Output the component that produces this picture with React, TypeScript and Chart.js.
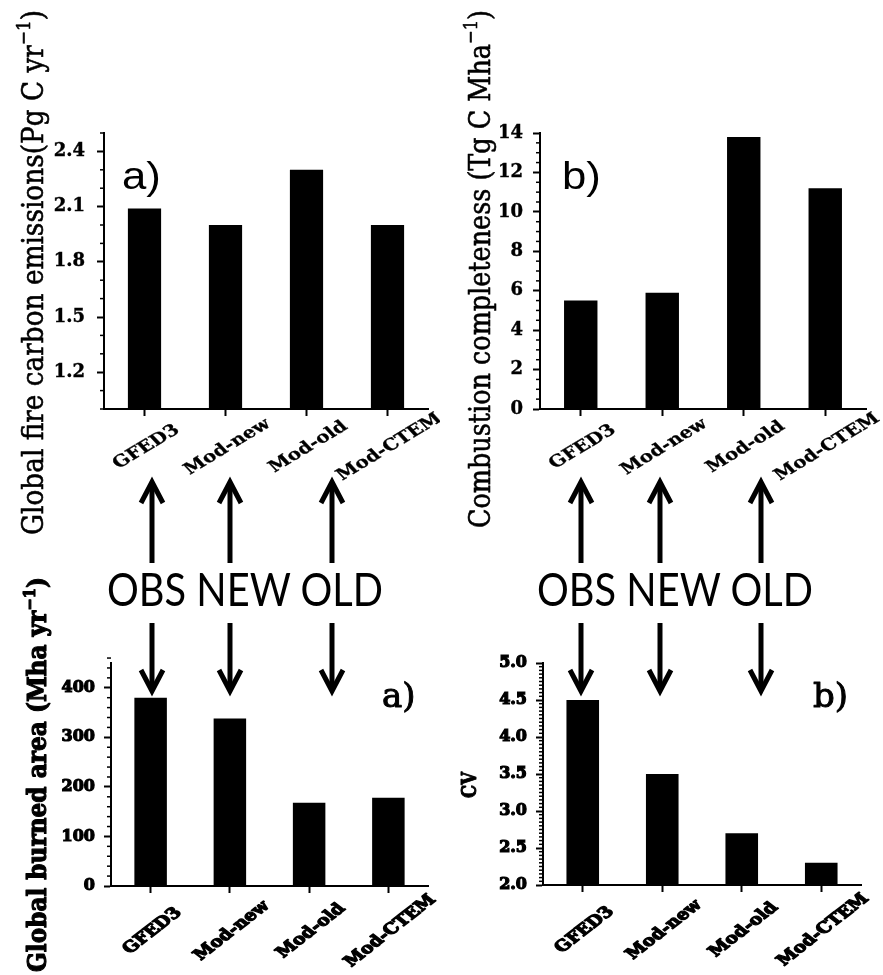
import React, { useEffect, useRef } from 'react';
import { Chart, registerables } from 'chart.js';

Chart.register(...registerables);

// ---------- data ----------
const CATEGORIES = ['GFED3', 'Mod-new', 'Mod-old', 'Mod-CTEM'];
const EMISSIONS = [2.09, 2.0, 2.3, 2.0];
const COMBUSTION = [5.5, 5.9, 13.8, 11.2];
const BURNED_AREA = [380, 338, 168, 178];
const CV_VALUES = [4.5, 3.5, 2.7, 2.3];

const EMISSIONS_TICKS = [1.2, 1.5, 1.8, 2.1, 2.4];
const COMBUSTION_TICKS = [0, 2, 4, 6, 8, 10, 12, 14];
const BURNED_TICKS = [0, 100, 200, 300, 400];
const CV_TICKS = [2.0, 2.5, 3.0, 3.5, 4.0, 4.5, 5.0];

const GROUP_LABEL = 'OBS NEW OLD';

// ---------- layout ----------
const SERIF = '"DejaVu Serif"';

type Panel = any;

const PANELS: Panel[] = [
  {
    key: 'tl', left: 0, top: 0, width: 440, height: 560,
    area: { l: 104, r: 428, t: 133, b: 409 },
    data: EMISSIONS, yMin: 1.0, yMax: 2.5, yTicks: EMISSIONS_TICKS, minorStep: 0.1, decimals: 1,
    tickFont: { family: SERIF, size: 18, weight: 'bold' }, tickStroke: 0.4, tickPad: 12,
    title: { main: 'Global fire carbon emissions(Pg C yr', sup: '\u22121', close: ')', size: 25, weight: 'normal', stroke: 0.5, bx: 43, y0: 10, y1: 535, stretch: 1.2 },
    label: { text: 'a)', font: '38px "Liberation Sans"', x: 122, y: 189, stretch: 1.15, stroke: 0 },
    xLabel: { font: `bold 16px ${SERIF}`, stroke: 0.3, angle: 37, stretch: 1.25, dy: 38, dx: 2 },
  },
  {
    key: 'tr', left: 440, top: 0, width: 443, height: 560,
    area: { l: 540, r: 866, t: 133, b: 409 },
    data: COMBUSTION, yMin: 0, yMax: 14, yTicks: COMBUSTION_TICKS, minorStep: 0.5, decimals: 0,
    tickFont: { family: SERIF, size: 18, weight: 'bold' }, tickStroke: 0.4, tickPad: 10,
    title: { main: 'Combustion completeness (Tg C Mha', sup: '\u22121', close: ')', size: 25, weight: 'normal', stroke: 0.5, bx: 490, y0: 10, y1: 528, stretch: 1.2 },
    label: { text: 'b)', font: '38px "Liberation Sans"', x: 562, y: 189, stretch: 1.15, stroke: 0 },
    xLabel: { font: `bold 16px ${SERIF}`, stroke: 0.3, angle: 37, stretch: 1.25, dy: 38, dx: 2 },
  },
  {
    key: 'bl', left: 0, top: 540, width: 440, height: 435,
    area: { l: 111, r: 428, t: 663, b: 886 },
    data: BURNED_AREA, yMin: 0, yMax: 450, yTicks: BURNED_TICKS, minorStep: 20, decimals: 0,
    tickFont: { family: SERIF, size: 16, weight: 'bold' }, tickStroke: 1.2, tickPad: 9,
    title: { main: 'Global burned area (Mha yr', sup: '\u22121', close: ')', size: 22, weight: 'bold', stroke: 1.0, bx: 46, y0: 577, y1: 972, stretch: 1.15 },
    label: { text: 'a)', font: `34px ${SERIF}`, x: 382, y: 707, stretch: 1.0, stroke: 1.0 },
    xLabel: { font: `bold 15px ${SERIF}`, stroke: 1.2, angle: 45, stretch: 1.28, dy: 45, dx: 2 },
  },
  {
    key: 'br', left: 440, top: 540, width: 443, height: 435,
    area: { l: 543, r: 861, t: 663, b: 885 },
    data: CV_VALUES, yMin: 2.0, yMax: 5.0, yTicks: CV_TICKS, minorStep: 0.05, decimals: 1,
    tickFont: { family: SERIF, size: 16, weight: 'bold' }, tickStroke: 1.2, tickPad: 9,
    title: { main: 'CV', sup: '', close: '', size: 20, weight: 'bold', stroke: 1.0, bx: 476, y0: 772, y1: 798, stretch: 1.0 },
    label: { text: 'b)', font: `34px ${SERIF}`, x: 813, y: 707, stretch: 1.0, stroke: 1.0 },
    xLabel: { font: `bold 15px ${SERIF}`, stroke: 1.2, angle: 45, stretch: 1.28, dy: 45, dx: 2 },
  },
];

const ARROW_X = [152, 230, 332, 581, 660, 761];
const UP_TIP = 482;
const UP_TAIL = 563;
const DOWN_TAIL = 623;
const DOWN_TIP = 691;
const TEXT_X = [107, 537];
const TEXT_BASELINE = 606;

function drawTitle(ctx: CanvasRenderingContext2D, t: any, ox: number, oy: number) {
  const mainFont = `${t.weight} ${t.size}px ${SERIF}`;
  const supFont = `${t.weight} ${Math.round(t.size * 0.62)}px ${SERIF}`;
  ctx.font = mainFont;
  const w1 = ctx.measureText(t.main).width;
  const w3 = t.close ? ctx.measureText(t.close).width : 0;
  ctx.font = supFont;
  const w2 = t.sup ? ctx.measureText(t.sup).width : 0;
  const total = w1 + w2 + w3;
  const len = t.y1 - t.y0;
  ctx.save();
  ctx.translate(t.bx - ox, (t.y0 + t.y1) / 2 - oy);
  ctx.rotate(-Math.PI / 2);
  ctx.scale(len / total, t.stretch);
  ctx.textAlign = 'left';
  ctx.textBaseline = 'alphabetic';
  ctx.lineWidth = t.stroke;
  ctx.lineJoin = 'round';
  const x0 = -total / 2;
  const put = (s: string, x: number, y: number) => {
    if (!s) return;
    if (t.stroke > 0) ctx.strokeText(s, x, y);
    ctx.fillText(s, x, y);
  };
  ctx.font = mainFont;
  put(t.main, x0, 0);
  ctx.font = supFont;
  put(t.sup, x0 + w1, -t.size * 0.45);
  ctx.font = mainFont;
  put(t.close, x0 + w1 + w2, 0);
  ctx.restore();
}

function makeDecor(p: Panel) {
  return {
    id: 'decor_' + p.key,
    afterDraw(chart: any) {
      const ctx: CanvasRenderingContext2D = chart.ctx;
      const xs = chart.scales.x;
      const ys = chart.scales.y;
      const area = chart.chartArea;
      ctx.save();
      ctx.fillStyle = '#000';
      ctx.strokeStyle = '#000';
      ctx.lineJoin = 'round';

      // minor ticks on y axis
      ctx.lineWidth = 1.5;
      const n = Math.round((p.yMax - p.yMin) / p.minorStep);
      for (let i = 0; i <= n; i++) {
        const v = p.yMin + i * p.minorStep;
        if (p.yTicks.some((t: number) => Math.abs(t - v) < 1e-6)) continue;
        const py = ys.getPixelForValue(v);
        ctx.beginPath();
        ctx.moveTo(area.left - 4, py);
        ctx.lineTo(area.left, py);
        ctx.stroke();
      }

      // rotated category labels
      const xl = p.xLabel;
      ctx.font = xl.font;
      ctx.textAlign = 'center';
      ctx.textBaseline = 'middle';
      ctx.lineWidth = xl.stroke;
      CATEGORIES.forEach((c, i) => {
        const px = xs.getPixelForTick(i) + xl.dx;
        const py = area.bottom + xl.dy;
        ctx.save();
        ctx.translate(px, py);
        ctx.scale(xl.stretch, 1);
        ctx.rotate((-xl.angle * Math.PI) / 180);
        if (xl.stroke > 0) ctx.strokeText(c, 0, 0);
        ctx.fillText(c, 0, 0);
        ctx.restore();
      });

      // y title
      drawTitle(ctx, p.title, p.left, p.top);

      // panel label
      const lab = p.label;
      ctx.save();
      ctx.translate(lab.x - p.left, lab.y - p.top);
      ctx.scale(lab.stretch, 1);
      ctx.font = lab.font;
      ctx.textAlign = 'left';
      ctx.textBaseline = 'alphabetic';
      ctx.lineWidth = lab.stroke;
      if (lab.stroke > 0) ctx.strokeText(lab.text, 0, 0);
      ctx.fillText(lab.text, 0, 0);
      ctx.restore();

      ctx.restore();
    },
  };
}

function PanelChart({ p }: { p: Panel }) {
  const ref = useRef<HTMLCanvasElement | null>(null);
  useEffect(() => {
    if (!ref.current) return;
    const W = p.width;
    const H = p.height;
    const aL = p.area.l - p.left;
    const aR = p.area.r - p.left;
    const aT = p.area.t - p.top;
    const aB = p.area.b - p.top;
    const YW = 60;
    const XH = 12;
    const chart = new Chart(ref.current, {
      type: 'bar',
      data: {
        labels: CATEGORIES,
        datasets: [
          {
            data: p.data,
            backgroundColor: '#000',
            borderWidth: 0,
            barPercentage: 0.41,
            categoryPercentage: 1,
          },
        ],
      },
      options: {
        responsive: false,
        maintainAspectRatio: false,
        animation: false,
        layout: { padding: { left: aL - YW, right: W - aR, top: aT, bottom: H - aB - XH } },
        plugins: { legend: { display: false }, tooltip: { enabled: false }, title: { display: false } },
        scales: {
          x: {
            type: 'category',
            offset: true,
            grid: {
              display: true, drawOnChartArea: false, drawTicks: true, tickLength: 7,
              tickWidth: 2, tickColor: '#000', color: '#000', offset: false,
            },
            border: { display: true, color: '#000', width: 2 },
            ticks: { display: false },
            afterFit: (s: any) => { s.height = XH; },
          },
          y: {
            type: 'linear',
            min: p.yMin,
            max: p.yMax,
            grid: {
              display: true, drawOnChartArea: false, drawTicks: true, tickLength: 7,
              tickWidth: 2, tickColor: '#000', color: '#000',
            },
            border: { display: true, color: '#000', width: 2 },
            afterBuildTicks: (s: any) => { s.ticks = p.yTicks.map((v: number) => ({ value: v })); },
            afterFit: (s: any) => { s.width = YW; },
            ticks: {
              color: '#000',
              font: p.tickFont,
              padding: p.tickPad,
              autoSkip: false,
              textStrokeColor: '#000',
              textStrokeWidth: p.tickStroke,
              callback: (v: any) => Number(v).toFixed(p.decimals),
            },
          },
        },
      } as any,
      plugins: [makeDecor(p)],
    });
    return () => chart.destroy();
  }, [p]);
  return (
    <canvas
      ref={ref}
      width={p.width}
      height={p.height}
      style={{ position: 'absolute', left: p.left, top: p.top, width: p.width, height: p.height }}
    />
  );
}

function Arrow({ x, tip, tail }: { x: number; tip: number; tail: number }) {
  const dir = tail > tip ? 1 : -1;
  const wing = 21 * dir;
  return (
    <g stroke="#000" strokeWidth={5} fill="none" strokeLinecap="butt" strokeLinejoin="miter">
      <line x1={x} y1={tail} x2={x} y2={tip + dir * 2} />
      <polyline points={`${x - 11},${tip + wing} ${x},${tip} ${x + 11},${tip + wing}`} />
    </g>
  );
}

export default function App() {
  return (
    <div style={{ position: 'absolute', left: 0, top: 0, width: 883, height: 975, background: '#fff', overflow: 'hidden' }}>
      {PANELS.map((p) => (
        <PanelChart key={p.key} p={p} />
      ))}
      <svg width={883} height={975} style={{ position: 'absolute', left: 0, top: 0, pointerEvents: 'none' }}>
        {ARROW_X.map((x, i) => (
          <Arrow key={'u' + i} x={x} tip={UP_TIP} tail={UP_TAIL} />
        ))}
        {ARROW_X.map((x, i) => (
          <Arrow key={'d' + i} x={x} tip={DOWN_TIP} tail={DOWN_TAIL} />
        ))}
        {TEXT_X.map((x, i) => (
          <text
            key={'t' + i}
            x={x}
            y={TEXT_BASELINE}
            fontFamily="Lato, 'Open Sans', sans-serif"
            fontSize={46}
            fill="#000"
            textLength={276}
            lengthAdjust="spacingAndGlyphs"
          >
            {GROUP_LABEL}
          </text>
        ))}
      </svg>
    </div>
  );
}
